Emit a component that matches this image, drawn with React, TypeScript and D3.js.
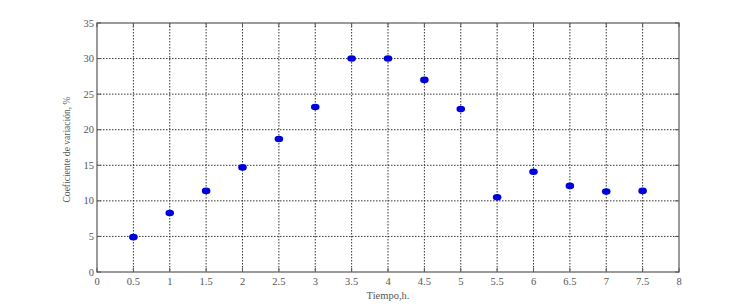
import React from "react";
import * as d3 from "d3";

const times = [0.5, 1, 1.5, 2, 2.5, 3, 3.5, 4, 4.5, 5, 5.5, 6, 6.5, 7, 7.5];
const cv = [4.9, 8.3, 11.4, 14.7, 18.7, 23.2, 30.0, 30.0, 27.0, 22.9, 10.5, 14.1, 12.1, 11.3, 11.4];
const xTicks = [0, 0.5, 1, 1.5, 2, 2.5, 3, 3.5, 4, 4.5, 5, 5.5, 6, 6.5, 7, 7.5, 8];
const yTicks = [0, 5, 10, 15, 20, 25, 30, 35];
const xLabel = "Tiempo,h.";
const yLabel = "Coeficiente de variación, %";

export default function App() {
  const W = 750, H = 306;
  const left = 97, right = 679, top = 23, bottom = 272;
  const x = d3.scaleLinear().domain([0, 8]).range([left, right]);
  const y = d3.scaleLinear().domain([0, 35]).range([bottom, top]);
  const font = "'Liberation Serif', 'DejaVu Serif', serif";
  const txt = "#555";
  return (
    <svg width={W} height={H} style={{ position: "absolute", left: 0, top: 0, background: "#fff" }}>
      <rect x={0} y={0} width={W} height={H} fill="#fff" />
      {/* grid */}
      {xTicks.slice(1, -1).map((t) => (
        <line key={"gx" + t} x1={x(t)} x2={x(t)} y1={top} y2={bottom} stroke="#333" strokeWidth={1} strokeDasharray="1.5,1.5" />
      ))}
      {yTicks.slice(1, -1).map((t) => (
        <line key={"gy" + t} x1={left} x2={right} y1={y(t)} y2={y(t)} stroke="#333" strokeWidth={1} strokeDasharray="1.5,1.5" />
      ))}
      {/* frame */}
      <rect x={left} y={top} width={right - left} height={bottom - top} fill="none" stroke="#666" strokeWidth={1.3} />
      {/* ticks */}
      {xTicks.map((t) => (
        <g key={"tx" + t}>
          <line x1={x(t)} x2={x(t)} y1={bottom} y2={bottom - 4} stroke="#555" />
          <line x1={x(t)} x2={x(t)} y1={top} y2={top + 4} stroke="#555" />
          <text x={x(t)} y={bottom + 13} textAnchor="middle" fontFamily={font} fontSize={10.5} fill={txt}>{t}</text>
        </g>
      ))}
      {yTicks.map((t) => (
        <g key={"ty" + t}>
          <line x1={left} x2={left + 4} y1={y(t)} y2={y(t)} stroke="#555" />
          <line x1={right} x2={right - 4} y1={y(t)} y2={y(t)} stroke="#555" />
          <text x={left - 3} y={y(t) + 3.5} textAnchor="end" fontFamily={font} fontSize={10.5} fill={txt}>{t}</text>
        </g>
      ))}
      {/* points */}
      {times.map((t, i) => (
        <ellipse key={"p" + i} cx={x(t)} cy={y(cv[i])} rx={4.3} ry={3.3} fill="#0000dd" />
      ))}
      {/* labels */}
      <text x={(left + right) / 2} y={bottom + 27} textAnchor="middle" fontFamily={font} fontSize={10.5} fill={txt}>{xLabel}</text>
      <text transform={`translate(70,${(97 + 202) / 2}) rotate(-90)`} textAnchor="middle" fontFamily={font} fontSize={10} fill={txt} textLength={106} lengthAdjust="spacingAndGlyphs">{yLabel}</text>
    </svg>
  );
}
